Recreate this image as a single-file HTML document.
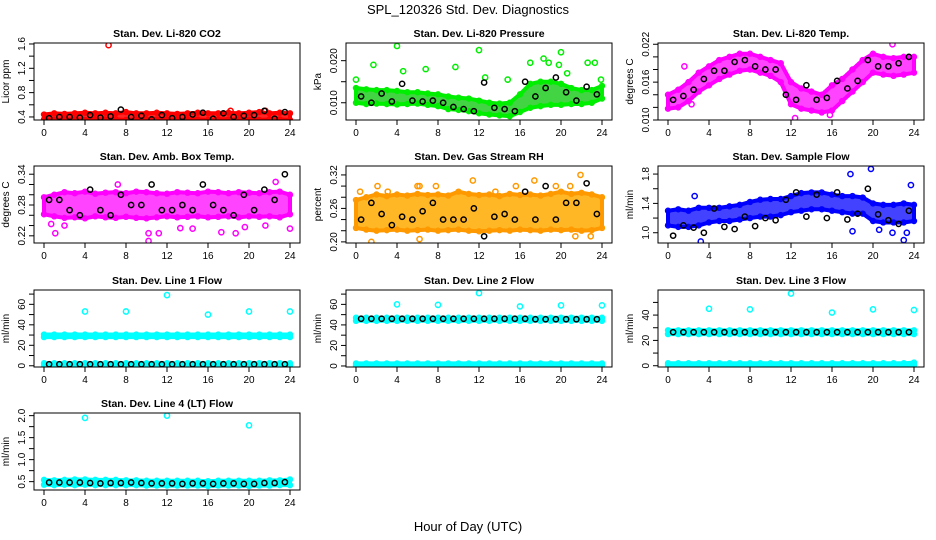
<!DOCTYPE html>
<html><head><meta charset="utf-8">
<style>
html,body{margin:0;padding:0;background:#fff;}
svg{display:block;font-family:"Liberation Sans",sans-serif;}
</style></head>
<body>
<svg id="chart" width="936" height="540" viewBox="0 0 936 540" xmlns="http://www.w3.org/2000/svg">
<text x="468" y="14" font-size="13" text-anchor="middle">SPL_120326  Std. Dev. Diagnostics</text>
<text x="468" y="531" font-size="13" text-anchor="middle">Hour of Day (UTC)</text>
<g id="panels"></g>
</svg>
<script>
const HOURS=[0,1,2,3,4,5,6,7,8,9,10,11,12,13,14,15,16,17,18,19,20,21,22,23,24];
const HB=[0.5,1.5,2.5,3.5,4.5,5.5,6.5,7.5,8.5,9.5,10.5,11.5,12.5,13.5,14.5,15.5,16.5,17.5,18.5,19.5,20.5,21.5,22.5,23.5];
const X_TICKS=[0,4,8,12,16,20,24];

const co2Lo=[0.36,0.35,0.36,0.36,0.35,0.36,0.36,0.36,0.35,0.36,0.36,0.36,0.36,0.35,0.36,0.36,0.35,0.36,0.36,0.36,0.36,0.35,0.36,0.36,0.35];
const co2Hi=[0.44,0.46,0.45,0.46,0.47,0.46,0.47,0.46,0.48,0.46,0.46,0.47,0.46,0.45,0.46,0.47,0.46,0.46,0.47,0.46,0.47,0.48,0.46,0.47,0.46];
const co2Black=[0.38,0.40,0.40,0.39,0.43,0.39,0.41,0.52,0.40,0.42,0.36,0.43,0.38,0.40,0.44,0.47,0.37,0.46,0.40,0.42,0.43,0.50,0.37,0.48];
const co2OutX=[6.3,15.9,18.2,21.6];
const co2OutY=[1.58,0.32,0.50,0.50];

const presLo=[0.0100,0.0097,0.0098,0.0097,0.0096,0.0097,0.0098,0.0095,0.0092,0.0085,0.0083,0.0080,0.0075,0.0072,0.0070,0.0068,0.0078,0.0088,0.0092,0.0095,0.0095,0.0097,0.0097,0.0100,0.0110];
const presHi=[0.0135,0.0132,0.0130,0.0130,0.0128,0.0125,0.0125,0.0122,0.0120,0.0115,0.0112,0.0110,0.0105,0.0100,0.0098,0.0100,0.0120,0.0145,0.0150,0.0150,0.0145,0.0135,0.0130,0.0130,0.0140];
const presBlack=[0.0115,0.0100,0.0122,0.0103,0.0145,0.0105,0.0103,0.0105,0.0100,0.0090,0.0085,0.0080,0.0148,0.0088,0.0085,0.0080,0.0150,0.0115,0.0135,0.0160,0.0125,0.0105,0.0138,0.0120];
const presOutX=[0,1.7,4,4.6,6.8,9.7,12,12.6,14.8,17,18.3,18.8,19.8,20,20.6,22.6,23.3,23.9];
const presOutY=[0.0155,0.019,0.0235,0.0175,0.018,0.0185,0.0225,0.016,0.0155,0.0195,0.0205,0.0195,0.019,0.022,0.017,0.0195,0.0195,0.0155];

const tempLo=[0.0118,0.0120,0.0130,0.0145,0.0155,0.0165,0.0172,0.0178,0.0180,0.0175,0.0170,0.0160,0.0125,0.0118,0.0115,0.0112,0.0115,0.0130,0.0145,0.0160,0.0175,0.0172,0.0170,0.0172,0.0175];
const tempHi=[0.0140,0.0148,0.0160,0.0175,0.0185,0.0195,0.0200,0.0205,0.0205,0.0200,0.0195,0.0190,0.0160,0.0150,0.0145,0.0140,0.0155,0.0165,0.0180,0.0195,0.0205,0.0200,0.0198,0.0200,0.0200];
const tempBlack=[0.0132,0.0138,0.0148,0.0165,0.0178,0.0178,0.0192,0.0195,0.0185,0.0180,0.0180,0.0140,0.0132,0.0155,0.0132,0.0135,0.0162,0.0150,0.0162,0.0195,0.0185,0.0185,0.0190,0.0200];
const tempOutX=[1.6,12.4,15.8,21.9,2.3];
const tempOutY=[0.0185,0.0103,0.0108,0.0220,0.0125];

const ambLo=[0.262,0.258,0.255,0.256,0.254,0.258,0.256,0.255,0.257,0.255,0.254,0.256,0.258,0.256,0.257,0.258,0.256,0.257,0.258,0.256,0.258,0.257,0.258,0.256,0.262];
const ambHi=[0.295,0.300,0.305,0.303,0.306,0.302,0.304,0.305,0.303,0.306,0.305,0.303,0.302,0.305,0.304,0.303,0.306,0.305,0.303,0.305,0.304,0.303,0.305,0.306,0.300];
const ambBlack=[0.29,0.29,0.27,0.26,0.31,0.27,0.26,0.30,0.28,0.28,0.32,0.27,0.27,0.28,0.27,0.32,0.28,0.27,0.26,0.30,0.27,0.31,0.29,0.34];
const ambOutX=[1.1,2.0,7.2,10.2,10.2,11.2,13.3,14.5,17.3,18.7,19.6,21.6,22.6,24,0.7];
const ambOutY=[0.225,0.240,0.320,0.210,0.225,0.225,0.235,0.234,0.227,0.225,0.237,0.240,0.325,0.234,0.243];

const rhLo=[0.225,0.222,0.220,0.221,0.222,0.220,0.221,0.222,0.220,0.221,0.222,0.220,0.219,0.220,0.221,0.220,0.222,0.221,0.220,0.222,0.221,0.222,0.220,0.221,0.225];
const rhHi=[0.275,0.280,0.285,0.282,0.285,0.283,0.286,0.284,0.285,0.283,0.290,0.286,0.284,0.285,0.282,0.286,0.284,0.285,0.283,0.286,0.290,0.286,0.288,0.285,0.280];
const rhBlack=[0.24,0.27,0.25,0.23,0.245,0.24,0.255,0.27,0.24,0.24,0.24,0.26,0.21,0.245,0.25,0.24,0.29,0.24,0.30,0.24,0.27,0.27,0.305,0.25];
const rhOutX=[0.4,1.5,2.1,3.1,6.0,6.2,6.2,7.8,11.4,13.6,15.6,17.4,19.5,20.9,21.4,21.9,22.9];
const rhOutY=[0.29,0.20,0.30,0.29,0.30,0.30,0.205,0.30,0.31,0.29,0.30,0.31,0.30,0.30,0.21,0.32,0.21];

const flowLo=[1.10,1.08,1.08,1.10,1.14,1.16,1.16,1.18,1.20,1.22,1.22,1.24,1.28,1.30,1.32,1.32,1.30,1.28,1.26,1.26,1.16,1.14,1.14,1.14,1.16];
const flowHi=[1.30,1.32,1.30,1.34,1.34,1.34,1.36,1.38,1.42,1.45,1.46,1.46,1.50,1.54,1.55,1.55,1.52,1.50,1.50,1.48,1.40,1.38,1.38,1.40,1.38];
const flowBlack=[0.96,1.10,1.07,1.00,1.33,1.08,1.05,1.22,1.09,1.20,1.17,1.45,1.55,1.22,1.52,1.20,1.55,1.18,1.26,1.60,1.25,1.17,1.12,1.30];
const flowOutX=[3.2,17.8,19.8,18.0,20.6,21.9,23.0,23.3,23.7,2.6];
const flowOutY=[0.88,1.80,1.87,1.02,1.04,1.00,0.90,1.00,1.65,1.50];

const l1Lo=[28,28,28,28,28,28,28,28,28,28,28,28,28,28,28,28,28,28,28,28,28,28,28,28,28];
const l1Hi=[30.5,30.5,30.5,30.5,30.5,30.5,30.5,30.5,30.5,30.5,30.5,30.5,30.5,30.5,30.5,30.5,30.5,30.5,30.5,30.5,30.5,30.5,30.5,30.5,30.5];
const l1Lo2=[0.5,0.5,0.5,0.5,0.5,0.5,0.5,0.5,0.5,0.5,0.5,0.5,0.5,0.5,0.5,0.5,0.5,0.5,0.5,0.5,0.5,0.5,0.5,0.5,0.5];
const l1Hi2=[2.5,2.5,2.5,2.5,2.5,2.5,2.5,2.5,2.5,2.5,2.5,2.5,2.5,2.5,2.5,2.5,2.5,2.5,2.5,2.5,2.5,2.5,2.5,2.5,2.5];
const l1Black=[1.5,1.5,1.5,1.5,1.5,1.5,1.5,1.5,1.5,1.5,1.5,1.5,1.5,1.5,1.5,1.5,1.5,1.5,1.5,1.5,1.5,1.5,1.5,1.5];
const l1OutX=[4,8,12,16,20,24];
const l1OutY=[53,53,69,50,53,53];

const l2Lo=[44,44,44,44,44,44,44,44,44,44,44,44,44,44,44,44,44,44,44,44,44,44,44,44,44];
const l2Hi=[47,47,47,47,47,47,47,47,47,47,47,47,47,47,47,47,47,47,47,47,47,47,47,47,47];
const l2Lo2=[0.5,0.5,0.5,0.5,0.5,0.5,0.5,0.5,0.5,0.5,0.5,0.5,0.5,0.5,0.5,0.5,0.5,0.5,0.5,0.5,0.5,0.5,0.5,0.5,0.5];
const l2Hi2=[2.5,2.5,2.5,2.5,2.5,2.5,2.5,2.5,2.5,2.5,2.5,2.5,2.5,2.5,2.5,2.5,2.5,2.5,2.5,2.5,2.5,2.5,2.5,2.5,2.5];
const l2Black=[46,46,46,46,46,46,46,46,46,46,46,46,46,46,46,46,46,45.5,45.5,45.5,45.5,45.5,45.5,45.5];
const l2OutX=[4,8,12,16,20,24];
const l2OutY=[60,59.5,71,58,59,59];

const l3Lo=[25,25,25,25,25,25,25,25,25,25,25,25,25,25,25,25,25,25,25,25,25,25,25,25,25];
const l3Hi=[28,28,28,28,28,28,28,28,28,28,28,28,28,28,28,28,28,28,28,28,28,28,28,28,28];
const l3Lo2=[0.5,0.5,0.5,0.5,0.5,0.5,0.5,0.5,0.5,0.5,0.5,0.5,0.5,0.5,0.5,0.5,0.5,0.5,0.5,0.5,0.5,0.5,0.5,0.5,0.5];
const l3Hi2=[2,2,2,2,2,2,2,2,2,2,2,2,2,2,2,2,2,2,2,2,2,2,2,2,2.5];
const l3Black=[26.5,26.5,26.5,26.5,26.5,26.5,26.5,26.5,26.5,26.5,26.5,26.5,26.5,26.5,26.5,26.5,26.5,26.5,26.5,26.5,26.5,26.5,26.5,26.5];
const l3OutX=[4,8,12,16,20,24];
const l3OutY=[45,44.5,57,42,44.5,44];

const l4Lo=[0.43,0.42,0.43,0.42,0.43,0.42,0.42,0.42,0.42,0.42,0.41,0.41,0.41,0.41,0.41,0.41,0.40,0.41,0.41,0.41,0.40,0.41,0.41,0.42,0.42];
const l4Hi=[0.54,0.53,0.54,0.55,0.55,0.54,0.54,0.54,0.53,0.53,0.52,0.52,0.52,0.52,0.52,0.52,0.51,0.52,0.52,0.52,0.52,0.52,0.53,0.53,0.55];
const l4Black=[0.48,0.48,0.48,0.48,0.47,0.46,0.47,0.47,0.48,0.47,0.46,0.46,0.46,0.45,0.46,0.46,0.45,0.46,0.46,0.45,0.45,0.47,0.47,0.49];
const l4OutX=[4,12,20];
const l4OutY=[1.95,2.0,1.78];

const panels=[
 {name:'co2',title:'Stan. Dev. Li-820 CO2',ylab:'Licor ppm',col:0,row:0,ymin:0.35,ymax:1.616,ticks:[0.4,0.6,0.8,1.0,1.2,1.4,1.6],labels:['0.4','','0.8','','1.2','','1.6'],color:'#ff0000',fill:'#ff0000',bands:[[co2Lo,co2Hi]],black:co2Black,ox:co2OutX,oy:co2OutY},
 {name:'pressure',title:'Stan. Dev. Li-820 Pressure',ylab:'kPa',col:1,row:0,ymin:0.0059,ymax:0.0242,ticks:[0.010,0.015,0.020],labels:['0.010','','0.020'],color:'#00ee00',fill:'#22cc22',bands:[[presLo,presHi]],black:presBlack,ox:presOutX,oy:presOutY},
 {name:'temp',title:'Stan. Dev. Li-820 Temp.',ylab:'degrees C',col:2,row:0,ymin:0.010,ymax:0.0222,ticks:[0.010,0.012,0.014,0.016,0.018,0.020,0.022],labels:['0.010','','','0.016','','','0.022'],color:'#ff00ff',fill:'#ff22ff',bands:[[tempLo,tempHi]],black:tempBlack,ox:tempOutX,oy:tempOutY},
 {name:'amb-temp',title:'Stan. Dev. Amb. Box Temp.',ylab:'degrees C',col:0,row:1,ymin:0.206,ymax:0.356,ticks:[0.22,0.24,0.26,0.28,0.30,0.32,0.34],labels:['0.22','','','0.28','','','0.34'],color:'#ff00ff',fill:'#ff22ff',bands:[[ambLo,ambHi]],black:ambBlack,ox:ambOutX,oy:ambOutY},
 {name:'rh',title:'Stan. Dev. Gas Stream RH',ylab:'percent',col:1,row:1,ymin:0.198,ymax:0.336,ticks:[0.20,0.22,0.24,0.26,0.28,0.30,0.32],labels:['0.20','','','0.26','','','0.32'],color:'#ff9900',fill:'#ffaa00',bands:[[rhLo,rhHi]],black:rhBlack,ox:rhOutX,oy:rhOutY},
 {name:'sample-flow',title:'Stan. Dev. Sample Flow',ylab:'ml/min',col:2,row:1,ymin:0.86,ymax:1.91,ticks:[1.0,1.2,1.4,1.6,1.8],labels:['1.0','','1.4','','1.8'],color:'#0000ff',fill:'#2222ff',bands:[[flowLo,flowHi]],black:flowBlack,ox:flowOutX,oy:flowOutY},
 {name:'line1',title:'Stan. Dev. Line 1 Flow',ylab:'ml/min',col:0,row:2,ymin:-1.2,ymax:74,ticks:[0,10,20,30,40,50,60,70],labels:['0','','20','','40','','60',''],color:'#00ffff',fill:'#00ffff',bands:[[l1Lo,l1Hi],[l1Lo2,l1Hi2]],black:l1Black,ox:l1OutX,oy:l1OutY},
 {name:'line2',title:'Stan. Dev. Line 2 Flow',ylab:'ml/min',col:1,row:2,ymin:-1,ymax:74,ticks:[0,10,20,30,40,50,60,70],labels:['0','','20','','40','','60',''],color:'#00ffff',fill:'#00ffff',bands:[[l2Lo,l2Hi],[l2Lo2,l2Hi2]],black:l2Black,ox:l2OutX,oy:l2OutY},
 {name:'line3',title:'Stan. Dev. Line 3 Flow',ylab:'ml/min',col:2,row:2,ymin:-1,ymax:59.8,ticks:[0,10,20,30,40,50],labels:['0','','20','','40',''],color:'#00ffff',fill:'#00ffff',bands:[[l3Lo,l3Hi],[l3Lo2,l3Hi2]],black:l3Black,ox:l3OutX,oy:l3OutY},
 {name:'line4',title:'Stan. Dev. Line 4 (LT) Flow',ylab:'ml/min',col:0,row:3,ymin:0.31,ymax:2.06,ticks:[0.5,0.75,1.0,1.25,1.5,1.75,2.0],labels:['0.5','','1.0','','1.5','','2.0'],color:'#00ffff',fill:'#00ffff',bands:[[l4Lo,l4Hi]],black:l4Black,ox:l4OutX,oy:l4OutY}
];

const NS='http://www.w3.org/2000/svg';
const root=document.getElementById('panels');
function mk(tag,attrs,parent){const e=document.createElementNS(NS,tag);for(const k in attrs)e.setAttribute(k,attrs[k]);parent.appendChild(e);return e;}
const ROW_TOP=[43,166,290,413], BOX_H=77, COL_LEFT=[34,346,658], BOX_W=266;

panels.forEach(p=>{
  const L=COL_LEFT[p.col], T=ROW_TOP[p.row], R=L+BOX_W, B=T+BOX_H;
  const xs=h=>L+10+(h)*(BOX_W-20)/24;
  const ys=v=>B-(v-p.ymin)/(p.ymax-p.ymin)*BOX_H;
  const g=mk('g',{},root);
  
  
  const t=mk('text',{x:(L+R)/2,y:T-6,'font-size':10.5,'font-weight':'bold','text-anchor':'middle'},g);
  t.textContent=p.title;
  
  
  const yl=mk('text',{x:L-25,y:(T+B)/2,'font-size':10,'text-anchor':'middle',transform:`rotate(-90 ${L-25} ${(T+B)/2})`},g);
  yl.textContent=p.ylab;
  
  
  const clip='clip-'+p.name;
  const cp=mk('clipPath',{id:clip},g); mk('rect',{x:L,y:T,width:BOX_W,height:BOX_H},cp);
  const marks=mk('g',{'clip-path':`url(#${clip})`},g);
  
  
  p.bands.forEach(b=>{
    const lo=b[0],hi=b[1];
    let pts=HOURS.map((h,i)=>xs(h)+','+ys(hi[i]));
    pts=pts.concat(HOURS.map((h,i)=>xs(h)+','+ys(lo[i])).reverse());
    const poly=mk('polygon',{points:pts.join(' '),fill:p.fill,'fill-opacity':0.85,stroke:p.color,'stroke-width':4,'stroke-linejoin':'round'},marks);
    
    
    HOURS.forEach((h,i)=>{[lo[i],hi[i]].forEach(v=>{
      const c=mk('circle',{cx:xs(h),cy:ys(v),r:2.5,fill:'none',stroke:p.color,'stroke-width':1.4},marks);
      
      
    });});
  });
  p.ox.forEach((h,i)=>{
    const c=mk('circle',{cx:xs(h),cy:ys(p.oy[i]),r:2.6,fill:'none',stroke:p.color,'stroke-width':1.5},marks);
    
    
  });
  p.black.forEach((v,i)=>{
    const c=mk('circle',{cx:xs(HB[i]),cy:ys(v),r:2.6,fill:'none',stroke:'#000','stroke-width':1.5},marks);
    
    
  });
  const box=mk('rect',{x:L,y:T,width:BOX_W,height:BOX_H,fill:'none',stroke:'#000','stroke-width':1},g);
  
  
  // x axis
  mk('line',{x1:xs(0),x2:xs(24),y1:B,y2:B,stroke:'#000'},g);
  X_TICKS.forEach(h=>{
    mk('line',{x1:xs(h),x2:xs(h),y1:B,y2:B+5,stroke:'#000'},g);
    const tl=mk('text',{x:xs(h),y:B+16,'font-size':10,'text-anchor':'middle'},g);
    tl.textContent=h;
    
    
  });
  // y axis
  p.ticks.forEach((v,i)=>{
    const y=ys(v);
    mk('line',{x1:L-5,x2:L,y1:y,y2:y,stroke:'#000'},g);
    if(p.labels[i]){
      const tl=mk('text',{x:L-9,y:y,'font-size':10,'text-anchor':'middle',transform:`rotate(-90 ${L-9} ${y})`},g);
      tl.textContent=p.labels[i];
      
      
    }
  });
});
</script>
</body></html>
